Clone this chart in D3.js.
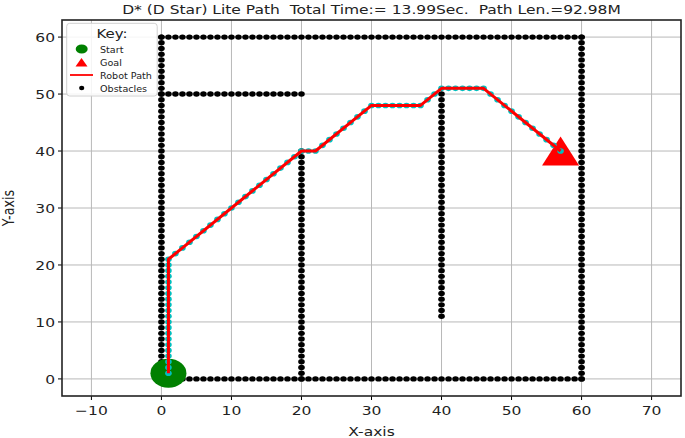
<!DOCTYPE html>
<html><head><meta charset="utf-8">
<script src="https://cdn.jsdelivr.net/npm/d3@7"></script>
<style>html,body{margin:0;padding:0;background:#fff;}svg{display:block;font-family:"DejaVu Sans",sans-serif;}text{white-space:pre;}</style>
</head><body>
<svg id="c" width="685" height="438"></svg>
<script>
// ---- data ----
const titleText = "D* (D Star) Lite Path  Total Time:= 13.99Sec.  Path Len.=92.98M";
const xTicks = [-10, 0, 10, 20, 30, 40, 50, 60, 70];
const yTicks = [0, 10, 20, 30, 40, 50, 60];
// obstacle walls: [x1, y1, x2, y2] (unit-spaced grid cells)
const wallStart = [[0,0],[0,0],[0,60],[60,0],[0,50],[20,0],[40,11]];
const wallEnd   = [[60,0],[0,60],[60,60],[60,60],[20,50],[20,40],[40,50]];
// robot path waypoints (grid cells visited between them)
const pathX = [1, 1, 20, 22, 30, 37, 40, 46, 57];
const pathY = [1, 21, 40, 40, 48, 48, 51, 51, 40];
const start = [1, 1];
const goal = [57, 40];
const legendLabels = ["Start", "Goal", "Robot Path", "Obstacles"];

// ---- layout ----
const L = 62, R = 681, T = 20, B = 396;
const SQ = 0.82; // vertical squeeze of the original image
const x = d3.scaleLinear().domain([30 - 44.2, 30 + 44.2]).range([L, R]);
const y = d3.scaleLinear().domain([-3, 63]).range([B, T]);
const svg = d3.select("#c");

function txt(g, s, tx, ty, size, anchor, rot) {
  const t = g.append("text").attr("transform", `translate(${tx},${ty}) scale(1,${SQ})` + (rot ? ` rotate(${rot})` : ""))
    .attr("font-size", size).attr("text-anchor", anchor || "start").attr("fill", "#222")
    .attr("xml:space", "preserve").text(s);
  return t;
}

// grid
const grid = svg.append("g");
grid.selectAll("line.gx").data(xTicks).join("line").attr("x1", d => x(d)).attr("x2", d => x(d))
  .attr("y1", T).attr("y2", B).attr("stroke", "#b8b8b8").attr("stroke-width", 1);
grid.selectAll("line.gy").data(yTicks).join("line").attr("y1", d => y(d)).attr("y2", d => y(d))
  .attr("x1", L).attr("x2", R).attr("stroke", "#b8b8b8").attr("stroke-width", 1);

// obstacles
const obs = [];
wallStart.forEach((s, i) => {
  const e = wallEnd[i];
  const n = Math.max(Math.abs(e[0] - s[0]), Math.abs(e[1] - s[1]));
  for (let k = 0; k <= n; k++) obs.push([s[0] + Math.sign(e[0] - s[0]) * k, s[1] + Math.sign(e[1] - s[1]) * k]);
});
svg.append("g").selectAll("ellipse").data(obs).join("ellipse")
  .attr("cx", d => x(d[0])).attr("cy", d => y(d[1])).attr("rx", 3.3).attr("ry", 2.7).attr("fill", "#000");

// start & goal
svg.append("ellipse").attr("cx", x(start[0])).attr("cy", y(start[1])).attr("rx", 18).attr("ry", 14.5).attr("fill", "#008000");
const gx = x(goal[0]), gy = y(goal[1]);
svg.append("path").attr("d", `M${gx},${gy - 14.5}L${gx - 18.5},${gy + 14.5}L${gx + 18.5},${gy + 14.5}Z`).attr("fill", "#ff0000");

// path cells
const cells = [];
for (let i = 0; i < pathX.length - 1; i++) {
  const dx = pathX[i + 1] - pathX[i], dy = pathY[i + 1] - pathY[i];
  const n = Math.max(Math.abs(dx), Math.abs(dy));
  for (let k = 0; k < n; k++) cells.push([pathX[i] + Math.sign(dx) * k, pathY[i] + Math.sign(dy) * k]);
}
cells.push([pathX[pathX.length - 1], pathY[pathY.length - 1]]);
svg.append("g").selectAll("ellipse").data(cells).join("ellipse")
  .attr("cx", d => x(d[0])).attr("cy", d => y(d[1])).attr("rx", 3.3).attr("ry", 2.8).attr("fill", "#00bfbf");
const line = d3.line().x(d => x(d[0])).y(d => y(d[1]));
svg.append("path").attr("d", line(pathX.map((v, i) => [v, pathY[i]]))).attr("fill", "none")
  .attr("stroke", "#ff0000").attr("stroke-width", 3).attr("stroke-linejoin", "round");

// axes ticks
const ax = svg.append("g");
ax.selectAll("line.tx").data(xTicks).join("line").attr("x1", d => x(d)).attr("x2", d => x(d))
  .attr("y1", B).attr("y2", B + 4).attr("stroke", "#000").attr("stroke-width", 1);
ax.selectAll("line.ty").data(yTicks).join("line").attr("y1", d => y(d)).attr("y2", d => y(d))
  .attr("x1", L - 4).attr("x2", L).attr("stroke", "#000").attr("stroke-width", 1);
xTicks.forEach(d => txt(ax, d < 0 ? "\u2212" + Math.abs(d) : String(d), x(d), 415, 15.5, "middle"));
yTicks.forEach(d => txt(ax, String(d), L - 7, y(d) + 5, 15.5, "end"));
txt(ax, "X-axis", (L + R) / 2, 436, 15.5, "middle");
txt(ax, "Y-axis", 14, (T + B) / 2, 15.5, "middle", -90);
txt(ax, titleText, (L + R) / 2, 14, 15.5, "middle");

// spines
svg.append("rect").attr("x", L).attr("y", T).attr("width", R - L).attr("height", B - T)
  .attr("fill", "none").attr("stroke", "#222").attr("stroke-width", 1.6);

// legend
const lg = svg.append("g");
lg.append("rect").attr("x", 66.7).attr("y", 23.3).attr("width", 90.5).attr("height", 72.7).attr("rx", 3)
  .attr("fill", "#fff").attr("fill-opacity", 0.85).attr("stroke", "#d0d0d0").attr("stroke-width", 1);
txt(lg, "Key:", 112, 37.5, 15, "middle");
const ly = [50, 63, 76, 89];
lg.append("ellipse").attr("cx", 81.7).attr("cy", ly[0] - 1).attr("rx", 6).attr("ry", 4.6).attr("fill", "#008000");
lg.append("path").attr("d", `M81.5,${ly[1] - 5}L75.5,${ly[1] + 3.5}L87.5,${ly[1] + 3.5}Z`).attr("fill", "#ff0000");
lg.append("line").attr("x1", 70).attr("x2", 93).attr("y1", ly[2] - 1).attr("y2", ly[2] - 1).attr("stroke", "#ff0000").attr("stroke-width", 1.8);
lg.append("ellipse").attr("cx", 81.7).attr("cy", ly[3] - 1).attr("rx", 2.6).attr("ry", 2.2).attr("fill", "#000");
legendLabels.forEach((s, i) => txt(lg, s, 100, ly[i] + 2.5, 9.6, "start"));
</script>
</body></html>
